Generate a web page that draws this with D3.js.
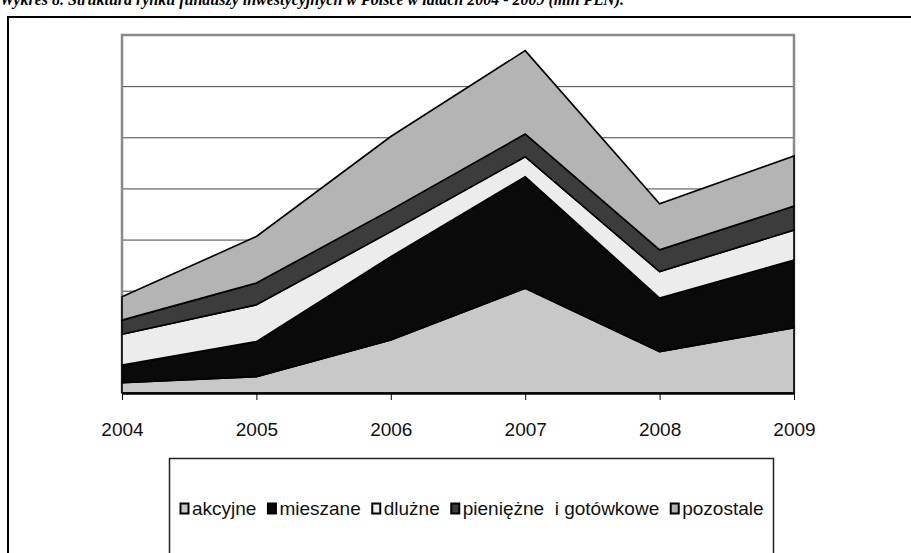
<!DOCTYPE html>
<html>
<head>
<meta charset="utf-8">
<script src="https://cdn.jsdelivr.net/npm/d3@7"></script>
<style>
  body { margin: 0; background: #fff; }
  svg { display: block; }
</style>
</head>
<body>
<div id="chart"></div>
<script>
// data (mln PLN)
var years = [2004, 2005, 2006, 2007, 2008, 2009];
var seriesNames = ["akcyjne", "mieszane", "dlużne", "pieniężne  i gotówkowe", "pozostale"];
var akcyjne = [4000, 6400, 20700, 41000, 16200, 25500];
var mieszane = [6900, 13700, 32600, 43600, 20900, 26500];
var dluzne = [12100, 14400, 9800, 7800, 10400, 11700];
var pieniezne = [5500, 8500, 8500, 8900, 8500, 9400];
var pozostale = [9100, 18200, 28700, 32600, 18000, 19600];
var gridTicks = [0, 20000, 40000, 60000, 80000, 100000, 120000, 140000];

var colors = ["#c8c8c8", "#0a0a0a", "#ececec", "#3c3c3c", "#b4b4b4"];

var svgWidth = 911;
var svgHeight = 553;

var plot = { left: 122, right: 794, top: 35, bottom: 393 };

var svg = d3.select("#chart")
    .append("svg")
    .attr("width", svgWidth)
    .attr("height", svgHeight);

// title, cut off at the top like in the scan
svg.append("text")
    .attr("x", 0)
    .attr("y", 5)
    .attr("font-family", "Liberation Serif, serif")
    .attr("font-style", "italic")
    .attr("font-weight", "700")
    .attr("font-size", 16)
    .text("Wykres 8. Struktura rynku funduszy inwestycyjnych w Polsce w latach 2004 - 2009 (mln PLN).");

// outer frame (top and left edges only visible)
svg.append("path")
    .attr("d", "M8,553 V17 H911")
    .attr("fill", "none")
    .attr("stroke", "#000")
    .attr("stroke-width", 2);

// table of rows for the stack
var table = years.map(function(y, i) {
    return {
        year: y,
        s0: akcyjne[i],
        s1: mieszane[i],
        s2: dluzne[i],
        s3: pieniezne[i],
        s4: pozostale[i]
    };
});

var stack = d3.stack().keys(["s0", "s1", "s2", "s3", "s4"]);
var layers = stack(table);

var x = d3.scaleLinear()
    .domain([2004, 2009])
    .range([plot.left, plot.right]);

var y = d3.scaleLinear()
    .domain([0, 140000])
    .range([plot.bottom, plot.top]);

// grid lines
svg.append("g")
    .selectAll("line")
    .data(gridTicks.slice(1, -1))
    .enter()
    .append("line")
    .attr("x1", plot.left)
    .attr("x2", plot.right)
    .attr("y1", d => y(d) + 0.5)
    .attr("y2", d => y(d) + 0.5)
    .attr("stroke", "#444")
    .attr("stroke-width", 1);

// plot border
svg.append("path")
    .attr("d", `M${plot.left},${plot.bottom} V${y(140000)} H${plot.right} V${plot.bottom}`)
    .attr("fill", "none")
    .attr("stroke", "#8a8a8a")
    .attr("stroke-width", 2.5);

// areas
var area = d3.area()
    .x(d => x(d.data.year))
    .y0(d => y(d[0]))
    .y1(d => y(d[1]));

svg.append("g")
    .selectAll("path")
    .data(layers)
    .enter()
    .append("path")
    .attr("d", area)
    .attr("fill", (d, i) => colors[i])
    .attr("stroke", "#000")
    .attr("stroke-width", 1.6)
    .attr("stroke-linejoin", "miter");

// x axis
var xAxis = d3.axisBottom(x)
    .tickValues(years)
    .tickFormat(d3.format("d"))
    .tickSize(7)
    .tickPadding(23)
    .tickSizeOuter(0);

var gx = svg.append("g")
    .attr("transform", `translate(0, ${plot.bottom})`)
    .call(xAxis);

gx.select(".domain")
    .attr("stroke", "#000")
    .attr("stroke-width", 2.5);
gx.selectAll(".tick line")
    .attr("stroke", "#000")
    .attr("stroke-width", 1);
gx.selectAll(".tick text")
    .attr("font-family", "Liberation Sans, Arial, sans-serif")
    .attr("font-size", 19)
    .attr("fill", "#111");

// legend
svg.append("rect")
    .attr("x", 169.5)
    .attr("y", 458.5)
    .attr("width", 604)
    .attr("height", 120)
    .attr("fill", "#fff")
    .attr("stroke", "#222")
    .attr("stroke-width", 1.5);

var legend = svg.append("g");
var lx = 180;
seriesNames.forEach(function(name, i) {
    legend.append("rect")
        .attr("x", lx + 0.5)
        .attr("y", 503.5)
        .attr("width", 8)
        .attr("height", 10)
        .attr("fill", colors[i])
        .attr("stroke", "#000")
        .attr("stroke-width", 2);
    var t = legend.append("text")
        .attr("x", lx + 12)
        .attr("y", 515)
        .attr("font-family", "Liberation Sans, Arial, sans-serif")
        .attr("font-size", 19)
        .attr("fill", "#111")
        .style("white-space", "pre")
        .text(name);
    lx = lx + 12 + t.node().getComputedTextLength() + 11;
});
</script>
</body>
</html>
